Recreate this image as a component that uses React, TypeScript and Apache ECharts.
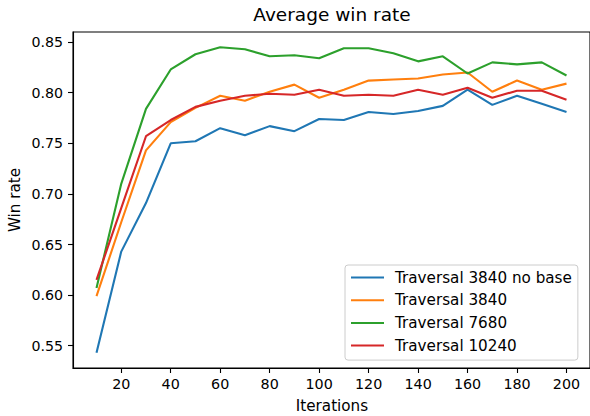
import React, { useEffect, useRef } from "react";
import * as echarts from "echarts";

const iterations = [10, 20, 30, 40, 50, 60, 70, 80, 90, 100, 110, 120, 130, 140, 150, 160, 170, 180, 190, 200];
const noBase3840 = [0.543, 0.643, 0.691, 0.750, 0.752, 0.765, 0.758, 0.767, 0.762, 0.774, 0.773, 0.781, 0.779, 0.782, 0.787, 0.803, 0.788, 0.797, 0.789, 0.781];
const trav3840 = [0.599, 0.672, 0.743, 0.771, 0.785, 0.797, 0.792, 0.801, 0.808, 0.795, 0.803, 0.812, 0.813, 0.814, 0.818, 0.820, 0.801, 0.812, 0.803, 0.809];
const trav7680 = [0.607, 0.710, 0.784, 0.823, 0.838, 0.845, 0.843, 0.836, 0.837, 0.834, 0.844, 0.844, 0.839, 0.831, 0.836, 0.819, 0.830, 0.828, 0.830, 0.817];
const trav10240 = [0.615, 0.686, 0.757, 0.773, 0.786, 0.792, 0.797, 0.799, 0.798, 0.803, 0.797, 0.798, 0.797, 0.803, 0.798, 0.805, 0.795, 0.802, 0.802, 0.793];
const seriesNames = ["Traversal 3840 no base", "Traversal 3840", "Traversal 7680", "Traversal 10240"];
const colors = ["#1f77b4", "#ff7f0e", "#2ca02c", "#d62728"];
const xTicks = [20, 40, 60, 80, 100, 120, 140, 160, 180, 200];
const yTicks = [0.55, 0.6, 0.65, 0.7, 0.75, 0.8, 0.85];

const FONT = "DejaVu Sans";

export default function App() {
  const ref = useRef<HTMLDivElement>(null);
  useEffect(() => {
    document.body.style.margin = "0";
    if (!ref.current) return;
    const chart = echarts.init(ref.current, null, { renderer: "svg" });
    const allSeries = [noBase3840, trav3840, trav7680, trav10240];
    chart.setOption({
      animation: false,
      backgroundColor: "#ffffff",
      grid: {
        left: 73,
        top: 32,
        width: 518,
        height: 336,
        show: true,
        borderColor: "#000",
        borderWidth: 1.1,
        backgroundColor: "transparent",
      },
      xAxis: {
        type: "value",
        min: 0.5,
        max: 209.5,
        splitLine: { show: false },
        axisLine: { show: true, lineStyle: { color: "#000", width: 1.1 } },
        axisTick: { show: true, inside: false, length: 5, lineStyle: { color: "#000", width: 1.1 }, customValues: xTicks },
        axisLabel: { customValues: xTicks, margin: 9, color: "#000", fontSize: 14.3, fontFamily: FONT },
      },
      yAxis: {
        type: "value",
        min: 0.528,
        max: 0.860,
        splitLine: { show: false },
        axisLine: { show: true, lineStyle: { color: "#000", width: 1.1 } },
        axisTick: { show: true, inside: false, length: 5, lineStyle: { color: "#000", width: 1.1 }, customValues: yTicks },
        axisLabel: {
          customValues: yTicks,
          margin: 10,
          color: "#000",
          fontSize: 14.2,
          fontFamily: FONT,
          formatter: (v: number) => v.toFixed(2),
        },
      },
      legend: {
        orient: "vertical",
        left: 345,
        top: 265,
        padding: [4, 6, 6, 6],
        itemGap: 5.7,
        itemWidth: 33,
        itemHeight: 2,
        icon: "rect",
        borderColor: "#cccccc",
        borderWidth: 1,
        borderRadius: 3,
        backgroundColor: "rgba(255,255,255,0.8)",
        textStyle: { color: "#000", fontSize: 15.2, fontFamily: FONT, lineHeight: 17, padding: [0, 0, 0, 6] },
        data: seriesNames,
      },
      graphic: [
        {
          type: "text",
          x: 332,
          y: 14.5,
          style: { text: "Average win rate", fontSize: 18.5, fontFamily: FONT, fill: "#000", align: "center", verticalAlign: "middle" },
        },
        {
          type: "text",
          x: 332,
          y: 406,
          style: { text: "Iterations", fontSize: 15.2, fontFamily: FONT, fill: "#000", align: "center", verticalAlign: "middle" },
        },
        {
          type: "text",
          x: 15,
          y: 200,
          rotation: Math.PI / 2,
          style: { text: "Win rate", fontSize: 15.2, fontFamily: FONT, fill: "#000", align: "center", verticalAlign: "middle" },
        },
      ],
      series: allSeries.map((vals, i) => ({
        name: seriesNames[i],
        type: "line",
        data: iterations.map((x, j) => [x, vals[j]]),
        showSymbol: false,
        symbol: "none",
        color: colors[i],
        lineStyle: { color: colors[i], width: 2.1 },
        itemStyle: { color: colors[i] },
      })),
    });
    return () => chart.dispose();
  }, []);
  return <div ref={ref} style={{ width: 590, height: 416 }} />;
}
